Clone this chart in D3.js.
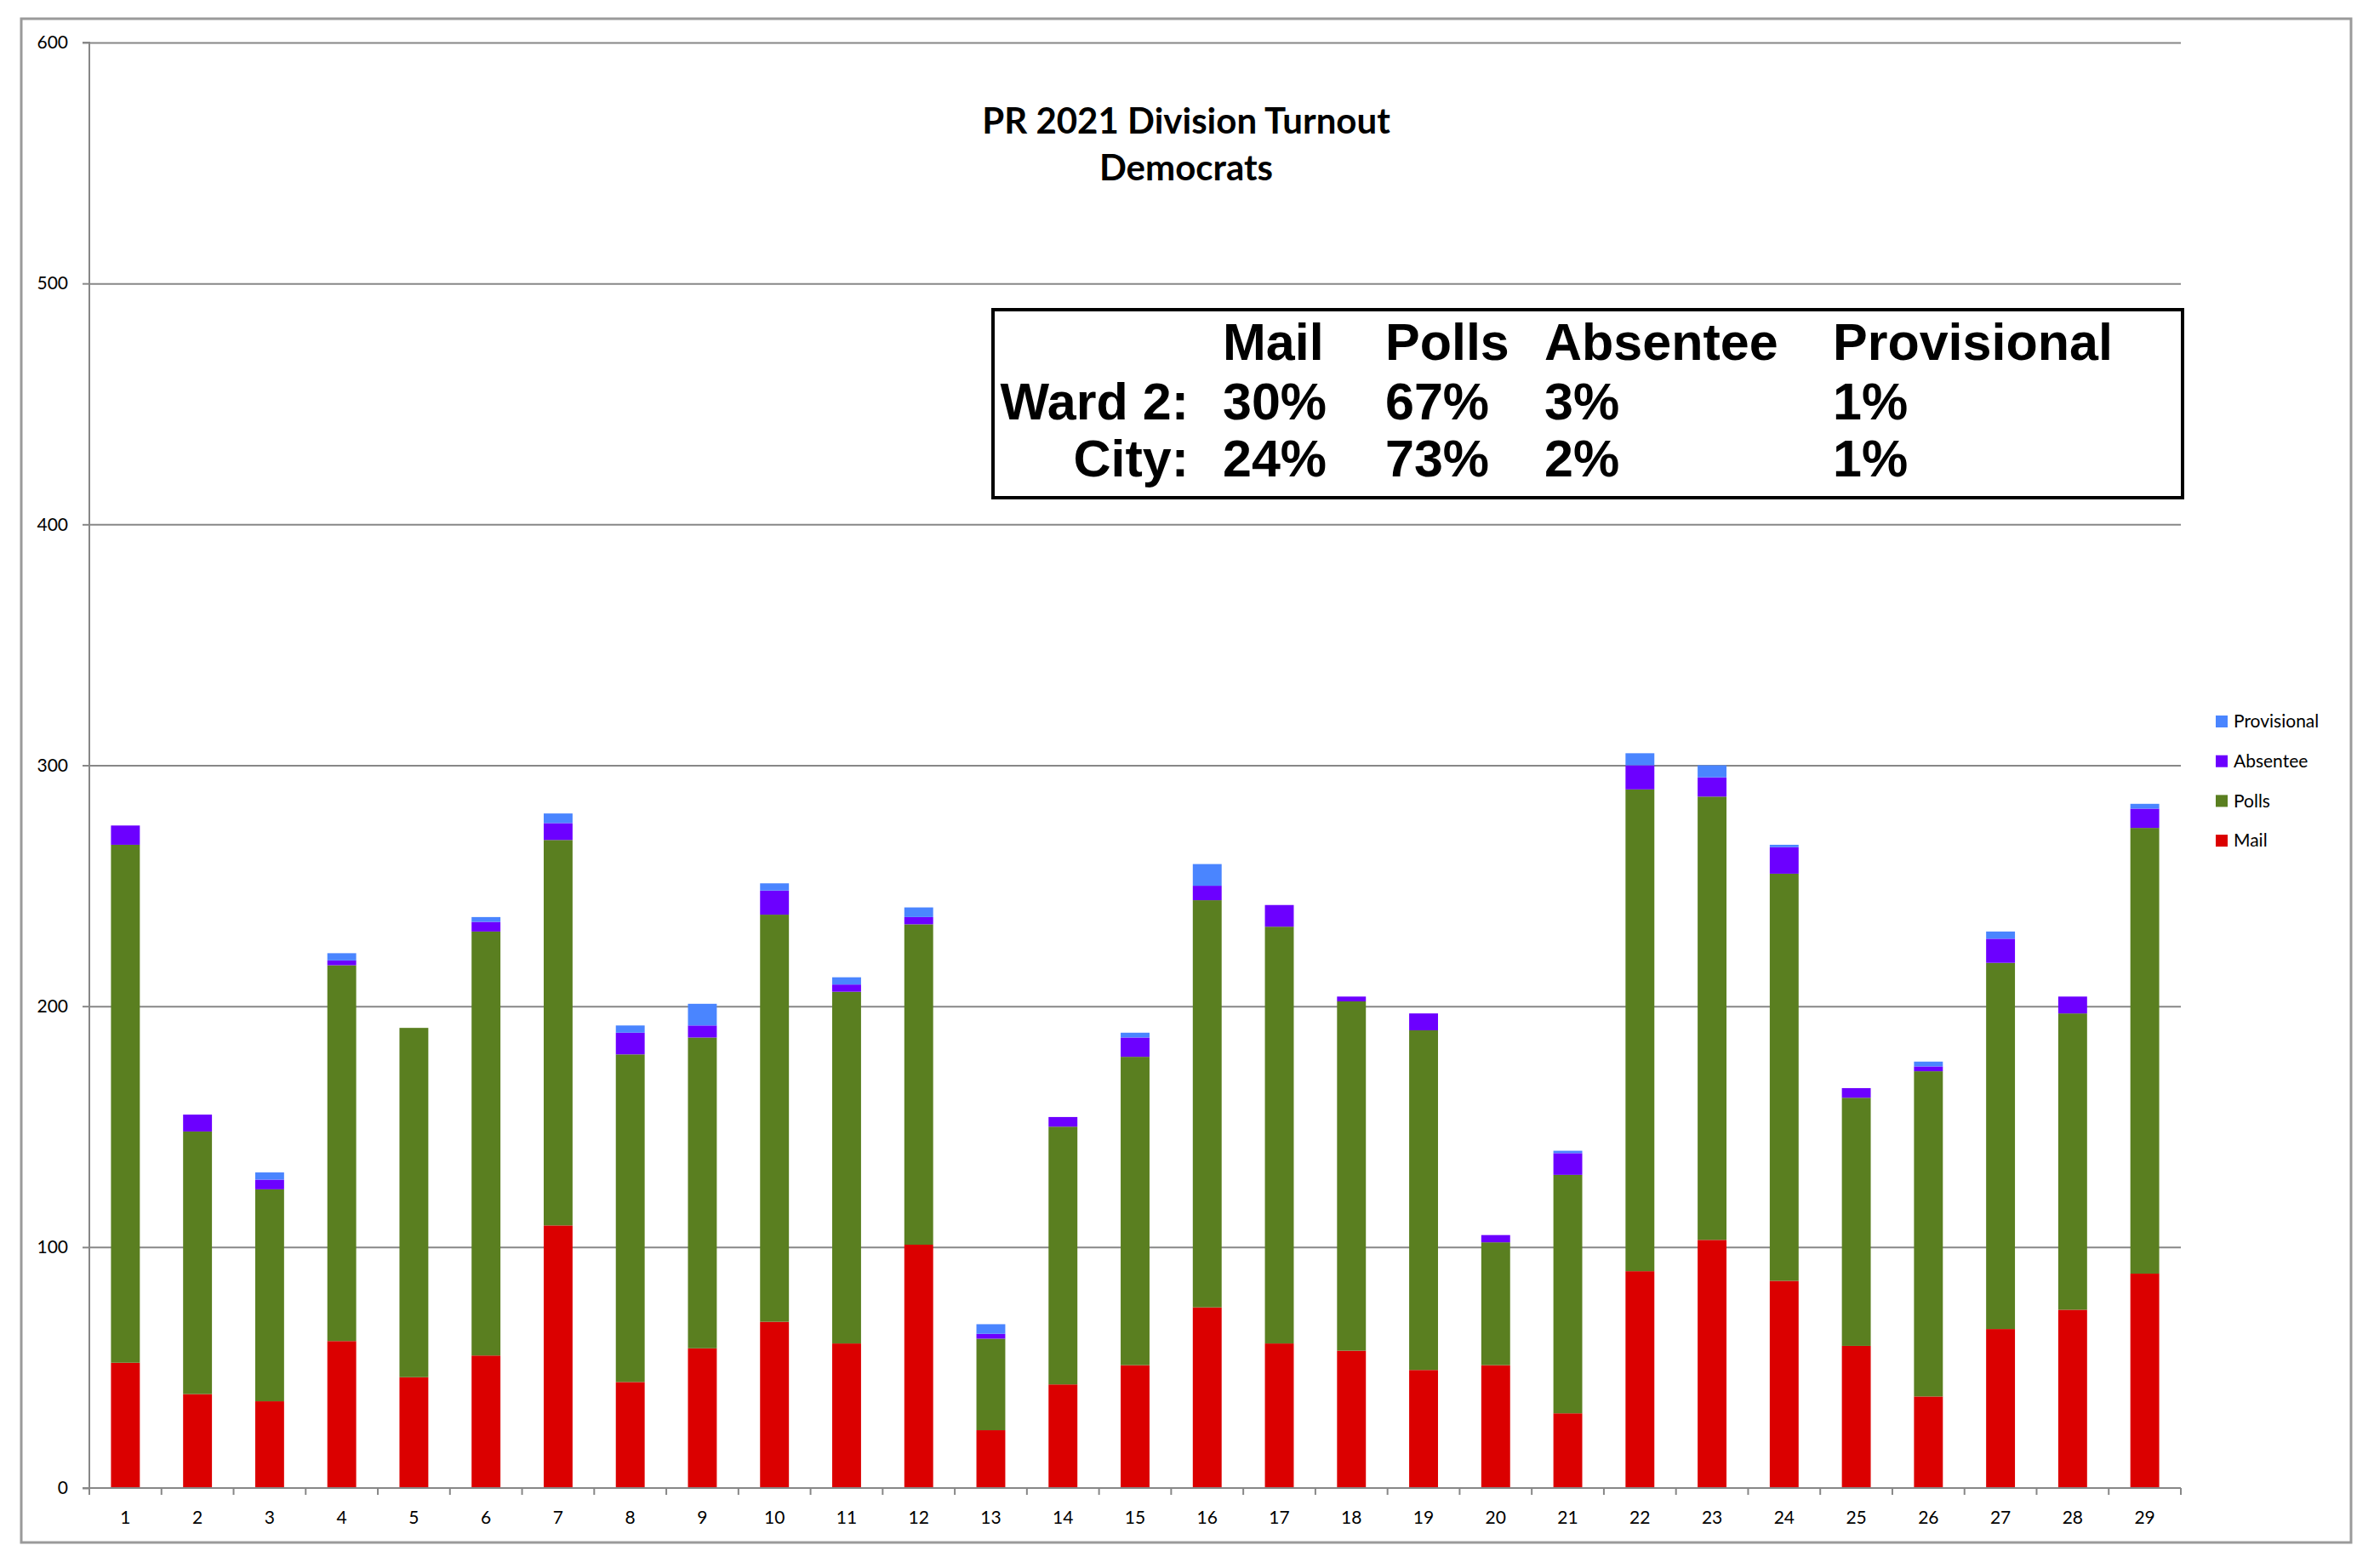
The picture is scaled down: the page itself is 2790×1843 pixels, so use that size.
<!DOCTYPE html>
<html>
<head>
<meta charset="utf-8">
<script src="https://cdn.jsdelivr.net/npm/d3@7"></script>
<style>
  body { margin: 0; background: #fff; }
  svg { display: block; }
</style>
</head>
<body>
<svg id="chart" width="2790" height="1843"></svg>
<script>
// values, one entry per division
const divisions = d3.range(1, 30).map(String)
const mail        = [52, 39, 36, 61, 46, 55, 109, 44, 58, 69, 60, 101, 24, 43, 51, 75, 60, 57, 49, 51, 31, 90, 103, 86, 59, 38, 66, 74, 89]
const polls       = [215, 109, 88, 156, 145, 176, 160, 136, 129, 169, 146, 133, 38, 107, 128, 169, 173, 145, 141, 51, 99, 200, 184, 169, 103, 135, 152, 123, 185]
const absentee    = [8, 7, 4, 2, 0, 4, 7, 9, 5, 10, 3, 3, 2, 4, 8, 6, 9, 2, 7, 3, 9, 10, 8, 11, 4, 2, 10, 7, 8]
const provisional = [0, 0, 3, 3, 0, 2, 4, 3, 9, 3, 3, 4, 4, 0, 2, 9, 0, 0, 0, 0, 1, 5, 5, 1, 0, 2, 3, 0, 2]

const series = ["Mail", "Polls", "Absentee", "Provisional"]
const colors = ["#db0000", "#5a7f20", "#6c00ff", "#4a85ff"]
const yTicks = [0, 100, 200, 300, 400, 500, 600]

// summary box
const boxCols = ["Mail", "Polls", "Absentee", "Provisional"]
const boxRows = [
  { label: "Ward 2:", vals: ["30%", "67%", "3%", "1%"] },
  { label: "City:",   vals: ["24%", "73%", "2%", "1%"] }
]

const title = ["PR 2021 Division Turnout", "Democrats"]

const table = divisions.map((d, i) => ({
  division: d,
  Mail: mail[i],
  Polls: polls[i],
  Absentee: absentee[i],
  Provisional: provisional[i]
}))

const svg = d3.select("#chart")
const grey = "#878787"
const plot = { left: 105, right: 2563, top: 50, bottom: 1749 }

// outer chart border
svg.append("rect")
  .attr("x", 25).attr("y", 22)
  .attr("width", 2738).attr("height", 1791)
  .attr("fill", "none").attr("stroke", "#9a9a9a").attr("stroke-width", 3)

const x = d3.scaleBand().domain(divisions).range([plot.left, plot.right]).padding(0)
const y = d3.scaleLinear().domain([0, 600]).range([plot.bottom, plot.top])
const fill = d3.scaleOrdinal().domain(series).range(colors)

// gridlines
svg.append("g")
  .attr("transform", `translate(${plot.left},0)`)
  .call(d3.axisLeft(y).tickValues(yTicks.slice(1)).tickSize(-(plot.right - plot.left)).tickFormat(""))
  .call(g => g.select(".domain").remove())
  .call(g => g.selectAll("line").attr("stroke", grey).attr("stroke-width", 2))

// y axis
svg.append("g")
  .attr("transform", `translate(${plot.left},0)`)
  .call(d3.axisLeft(y).tickValues(yTicks).tickSize(8).tickPadding(17))
  .call(g => g.select(".domain").attr("stroke", grey).attr("stroke-width", 2).attr("d", `M-8,${plot.top}H0V${plot.bottom}H-8`))
  .call(g => g.selectAll("line").attr("stroke", grey).attr("stroke-width", 2))
  .call(g => g.selectAll("text").attr("font-family", "Lato").attr("font-size", 21).attr("fill", "#000"))

// stacked bars
const stacked = d3.stack().keys(series)(table)
const bw = x.bandwidth() * 0.4

svg.append("g")
  .selectAll("g")
  .data(stacked).enter()
  .append("g")
  .attr("fill", d => fill(d.key))
  .selectAll("rect")
  .data(d => d.filter(s => s[1] > s[0])).enter()
  .append("rect")
  .attr("x", d => x(d.data.division) + (x.bandwidth() - bw) / 2)
  .attr("y", d => y(d[1]))
  .attr("width", bw)
  .attr("height", d => y(d[0]) - y(d[1]))

// x axis: labels under bars, ticks on band edges
svg.append("g")
  .attr("transform", `translate(0,${plot.bottom})`)
  .call(d3.axisBottom(x).tickSize(0).tickPadding(27))
  .call(g => g.select(".domain").remove())
  .call(g => g.selectAll("text").attr("font-family", "Lato").attr("font-size", 21).attr("fill", "#000"))

const edges = divisions.map(d => x(d)).concat([plot.right])
svg.append("g")
  .selectAll("line")
  .data(edges).enter()
  .append("line")
  .attr("x1", d => d).attr("x2", d => d)
  .attr("y1", plot.bottom).attr("y2", plot.bottom + 8)
  .attr("stroke", grey).attr("stroke-width", 2)
svg.append("line")
  .attr("x1", plot.left - 8).attr("x2", plot.right)
  .attr("y1", plot.bottom).attr("y2", plot.bottom)
  .attr("stroke", grey).attr("stroke-width", 2)

// title
svg.append("g")
  .selectAll("text")
  .data(title).enter()
  .append("text")
  .attr("x", 1394)
  .attr("y", (d, i) => 157 + i * 55)
  .attr("text-anchor", "middle")
  .attr("font-family", "Lato").attr("font-weight", "bold").attr("font-size", 42)
  .text(d => d)

// summary box
svg.append("rect")
  .attr("x", 1167).attr("y", 364)
  .attr("width", 1398).attr("height", 221)
  .attr("fill", "#fff").attr("stroke", "#000").attr("stroke-width", 4)

const colX = [1437, 1628, 1815, 2154]
const box = svg.append("g")
  .attr("font-family", "Liberation Sans, Arial").attr("font-weight", "bold").attr("font-size", 61)

box.selectAll("text.head")
  .data(boxCols).enter()
  .append("text")
  .attr("class", "head")
  .attr("x", (d, i) => colX[i]).attr("y", 423)
  .text(d => d)

boxRows.forEach((r, j) => {
  const yy = 493 + j * 67
  box.append("text")
    .attr("x", 1397).attr("y", yy).attr("text-anchor", "end")
    .text(r.label)
  box.selectAll(null)
    .data(r.vals).enter()
    .append("text")
    .attr("x", (d, i) => colX[i]).attr("y", yy)
    .text(d => d)
})

// legend
const legendKeys = series.slice().reverse()
const legend = svg.append("g")
  .selectAll("g")
  .data(legendKeys).enter()
  .append("g")
  .attr("transform", (d, i) => `translate(2604,${848 + i * 46.7})`)
legend.append("rect")
  .attr("x", 0).attr("y", -7).attr("width", 14).attr("height", 14)
  .attr("fill", d => fill(d))
legend.append("text")
  .attr("x", 21).attr("dy", "0.35em")
  .attr("font-family", "Lato").attr("font-size", 21)
  .text(d => d)
</script>
</body>
</html>
